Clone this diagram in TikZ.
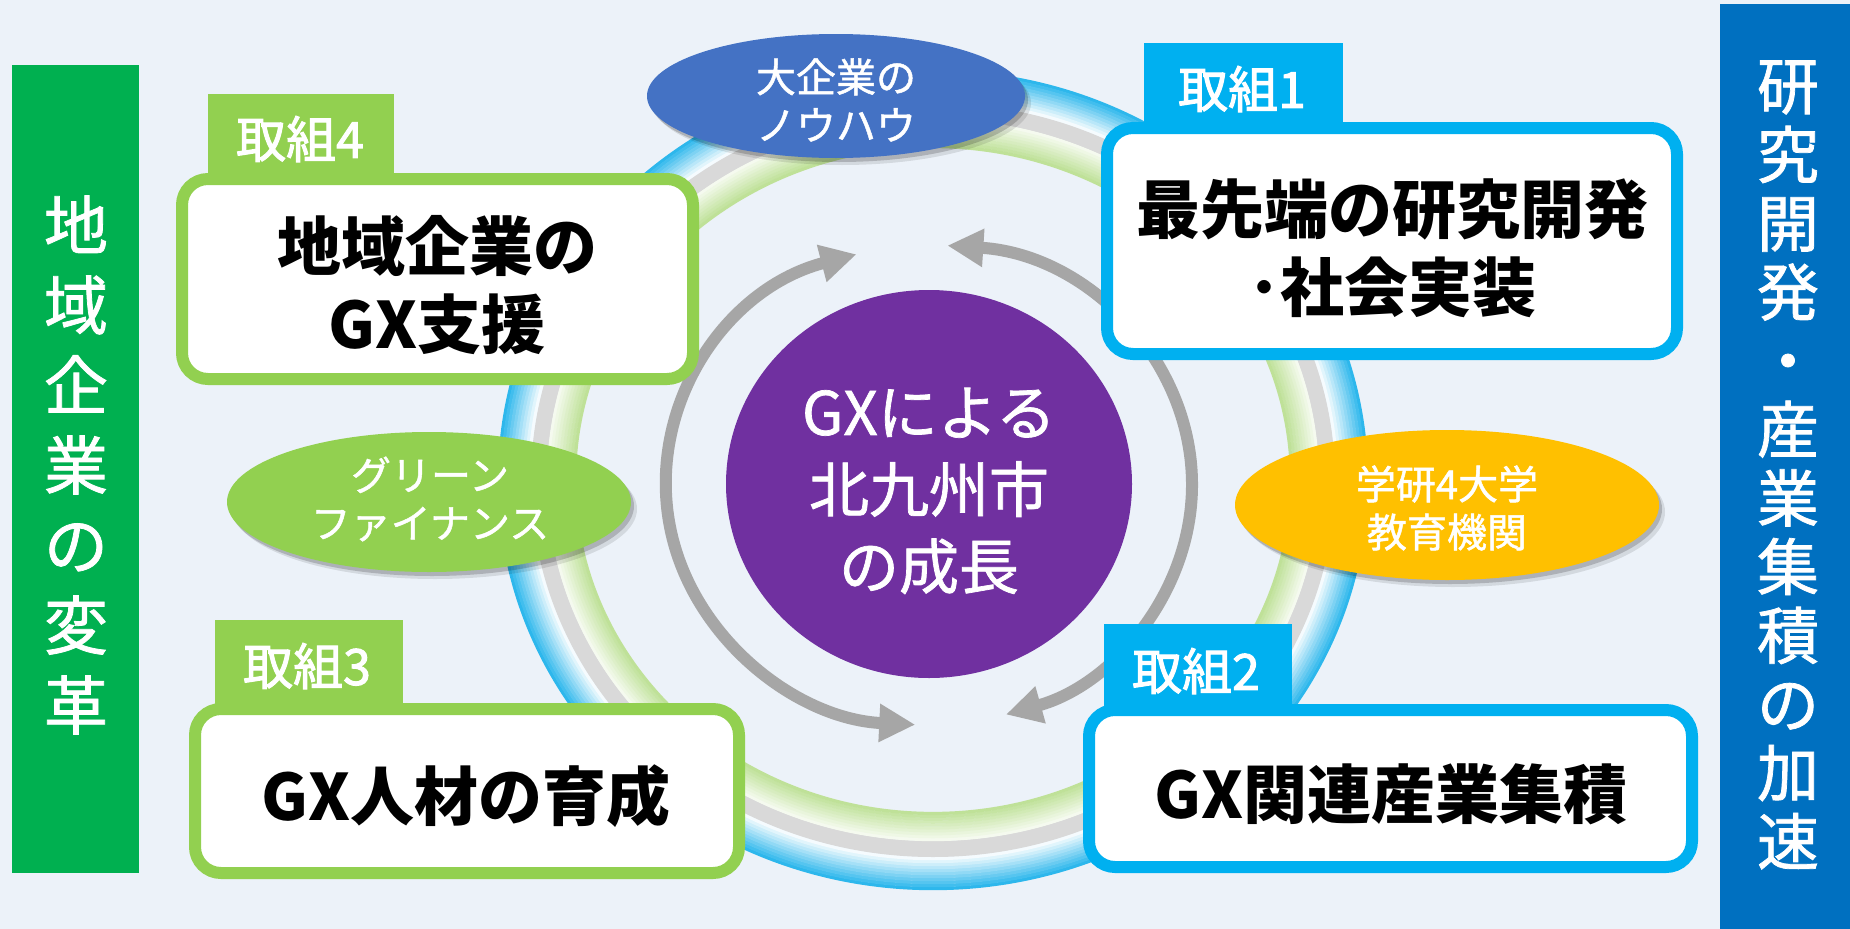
\documentclass[tikz,border=0pt]{standalone}
\usepackage{fontspec}
\newfontfamily\jp{Noto Sans CJK JP}
\newfontfamily\jpm{Noto Sans CJK JP}[FakeBold=1.2]
\newfontfamily\jpt{Noto Sans CJK JP}[FakeBold=2]
\usetikzlibrary{arrows.meta,shapes.geometric,shadows}
\definecolor{bgc}{RGB}{236,242,249}
\definecolor{barL}{RGB}{0,176,80}
\definecolor{barR}{RGB}{0,112,192}
\definecolor{gcol}{RGB}{146,208,80}
\definecolor{bcol}{RGB}{0,176,240}
\definecolor{purp}{RGB}{112,48,160}
\definecolor{eblue}{RGB}{68,114,196}
\definecolor{eyel}{RGB}{255,192,0}
\definecolor{arrc}{RGB}{166,166,166}
\definecolor{ringblue}{RGB}{45,183,236}
\definecolor{ringgray}{RGB}{217,217,217}
\definecolor{ringgreen}{RGB}{188,224,148}
\begin{document}
\begin{tikzpicture}[x=1pt,y=-1pt,
  tabbox/.style={inner sep=0pt, draw=none},
  tabtext/.style={font=\jpt\fontsize{50}{60}\selectfont, text=white, inner sep=0pt},
  mainbox/.style={fill=white, line width=12pt, rounded corners=26pt, inner sep=0pt},
  boxtext/.style={font=\jp\bfseries\fontsize{64}{78}\selectfont, text=black, align=center, inner sep=0pt},
  oval/.style={ellipse, inner sep=0pt, draw=none,
    drop shadow={shadow xshift=3pt, shadow yshift=-4pt, opacity=0.18, fill=black},
    drop shadow={shadow xshift=6pt, shadow yshift=-7pt, opacity=0.10, fill=black}},
  elltext/.style={font=\jpm\fontsize{40}{48}\selectfont, text=white, align=center, inner sep=0pt},
  coretext/.style={font=\jpm\fontsize{60}{77}\selectfont, text=white, align=center, inner sep=0pt},
  vtext/.style={text=white, align=center, inner sep=0pt},
  grayarr/.style={draw=arrc, line width=12pt,
    {Triangle[length=36pt,width=36pt]}-{Triangle[length=36pt,width=36pt]}}
]
\useasboundingbox (0,0) rectangle (1850,929);
\fill[bgc] (0,0) rectangle (1850,929);

% ---- ring ----
\coordinate (rc) at (933,480);
\foreach \i in {0,...,10} {
  \pgfmathsetmacro\d{1.5+3*\i}
  \pgfmathsetmacro\p{100-9.5*\i}
  \draw[line width=3.4pt, ringblue!\p!white] (rc) ellipse [x radius={435-\d}, y radius={410-\d}];
}
\draw[line width=16pt, ringgray] (rc) ellipse [x radius={435-41}, y radius={410-41}];
\foreach \i in {0,...,9} {
  \pgfmathsetmacro\d{49+1.45+2.9*\i}
  \pgfmathsetmacro\p{15+9*\i}
  \draw[line width=3.2pt, ringgreen!\p!white] (rc) ellipse [x radius={435-\d}, y radius={410-\d}];
}

% ---- gray arrows ----
\coordinate (ac) at (929,485);
\draw[grayarr] ([shift={(254:263 and 240)}]ac) arc[start angle=254, end angle=93, x radius=263, y radius=240];
\draw[grayarr] ([shift={(-86:263 and 240)}]ac) arc[start angle=-86, end angle=73, x radius=263, y radius=240];

% ---- centre ----
\node[ellipse, fill=purp, minimum width=406pt, minimum height=388pt, inner sep=0pt] (core) at (929,484) {};
\node[coretext] (coret) at (929,491) {GXによる\\北九州市\\の成長};

% ---- ovals ----
\node[oval, fill=eblue, minimum width=378pt, minimum height=124pt] (eb) at (836,96) {};
\node[elltext] (ebt) at (836,100) {大企業の\\ノウハウ};
\node[oval, fill=gcol, minimum width=404pt, minimum height=140pt] (eg) at (429,502) {};
\node[elltext] (egt) at (430,499) {グリーン\\ファイナンス};
\node[oval, fill=eyel, minimum width=424pt, minimum height=150pt] (ey) at (1447,505) {};
\node[elltext] (eyt) at (1447,508) {学研4大学\\教育機関};

% ---- boxes ----
\node[tabbox, fill=gcol, minimum width=186pt, minimum height=86pt] (tab4) at (301,137) {};
\node[tabtext] (tab4t) at (300,139) {取組4};
\node[mainbox, draw=gcol, minimum width=511pt, minimum height=200pt] (box4) at (437.5,279) {};
\node[boxtext] (box4t) at (437,285) {地域企業の\\GX支援};

\node[tabbox, fill=bcol, minimum width=199pt, minimum height=86pt] (tab1) at (1243.5,86) {};
\node[tabtext] (tab1t) at (1242,89) {取組1};
\node[mainbox, draw=bcol, minimum width=570pt, minimum height=226pt] (box1) at (1392,241) {};
\node[boxtext] (box1t) at (1392,248) {最先端の研究開発\\･社会実装};

\node[tabbox, fill=gcol, minimum width=188pt, minimum height=90pt] (tab3) at (309,665) {};
\node[tabtext] (tab3t) at (307,666) {取組3};
\node[mainbox, draw=gcol, minimum width=544pt, minimum height=164pt] (box3) at (467,791) {};
\node[boxtext] (box3t) at (466,796) {GX人材の育成};

\node[tabbox, fill=bcol, minimum width=188pt, minimum height=87pt] (tab2) at (1198,667.5) {};
\node[tabtext] (tab2t) at (1196,671) {取組2};
\node[mainbox, draw=bcol, minimum width=603pt, minimum height=157pt] (box2) at (1390.5,788.5) {};
\node[boxtext] (box2t) at (1391,794) {GX関連産業集積};

% ---- side bars ----
\node[fill=barL, minimum width=127pt, minimum height=808pt, inner sep=0pt] (barl) at (75.5,469) {};
\node[vtext, font=\jpm\fontsize{64}{80}\selectfont] (barlt) at (76,465) {地\\域\\企\\業\\の\\変\\革};
\node[fill=barR, minimum width=130pt, minimum height=925pt, inner sep=0pt] (barr) at (1785,466.5) {};
\node[vtext, font=\jpm\fontsize{62}{68.7}\selectfont] (barrt) at (1788,465) {研\\究\\開\\発\\・\\産\\業\\集\\積\\の\\加\\速};
\end{tikzpicture}
\end{document}
